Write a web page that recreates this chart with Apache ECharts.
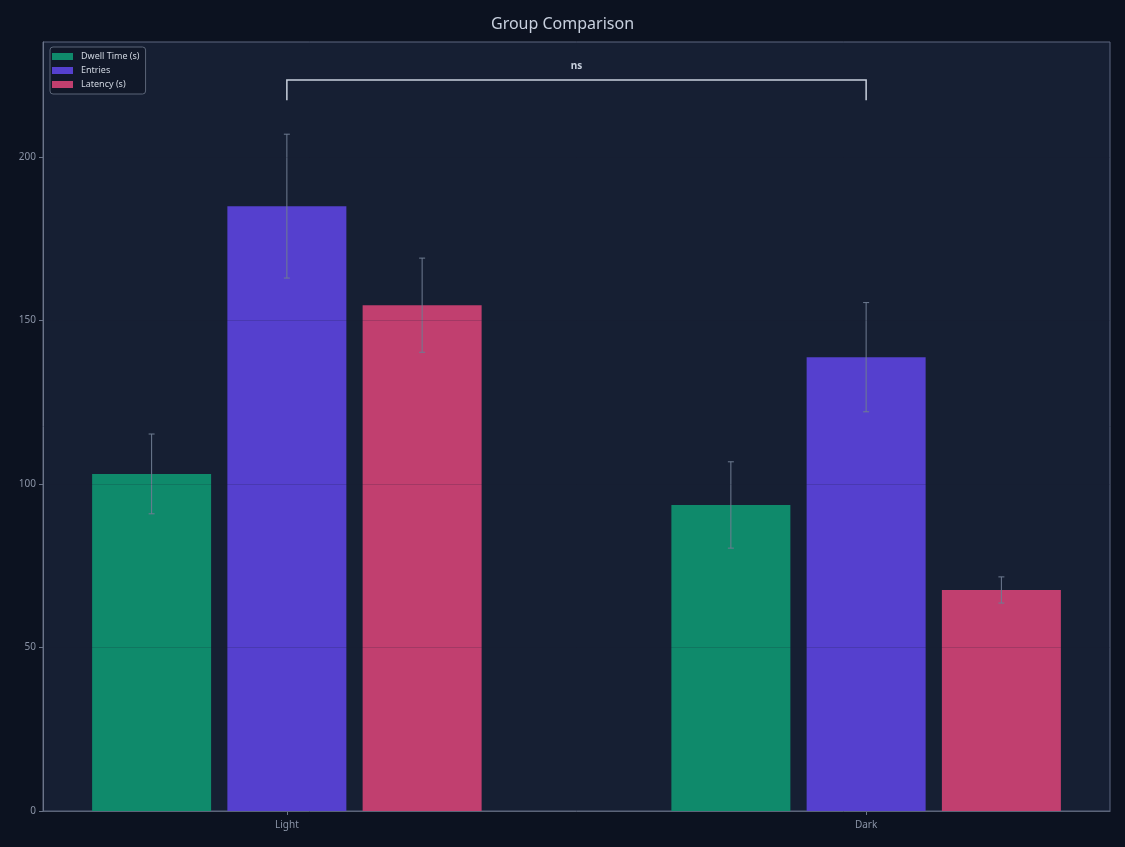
<!DOCTYPE html>
<html><head><meta charset="utf-8">
<script src="https://cdn.jsdelivr.net/npm/echarts@6/dist/echarts.min.js"></script>
<style>html,body{margin:0;padding:0;background:#0c1220;}#c{width:1125px;height:847px;}</style>
</head><body><div id="c"></div>
<script>
const categories = ['Light', 'Dark'];
const seriesNames = ['Dwell Time (s)', 'Entries', 'Latency (s)'];
const dwellValues = [103.1, 93.6];
const dwellErrors = [12.2, 13.2];
const entriesValues = [185.0, 138.8];
const entriesErrors = [22.0, 16.7];
const latencyValues = [154.7, 67.6];
const latencyErrors = [14.4, 4.0];
const yTicks = [0, 50, 100, 150, 200];
const sigPairs = [[0, 1, 'ns']];

const colors = ['#0f8a6b', '#5540ce', '#c13f6f'];
const allValues = [dwellValues, entriesValues, latencyValues];
const allErrors = [dwellErrors, entriesErrors, latencyErrors];
const OFFSET = 0.2335;

const chart = echarts.init(document.getElementById('c'));
const font = 'Noto Sans, Open Sans, sans-serif';

const series = [];
allValues.forEach((vals, s) => {
  series.push({
    type: 'bar', name: seriesNames[s],
    data: vals.map((v, i) => [i + (s - 1) * OFFSET, v]),
    barWidth: 119, barGap: '-100%',
    itemStyle: { color: colors[s] }, z: 2
  });
});
allValues.forEach((vals, s) => {
  series.push({
    type: 'custom', name: 'err' + s, silent: true, z: 5,
    data: vals.map((v, i) => [i + (s - 1) * OFFSET, v, allErrors[s][i]]),
    renderItem: function (params, api) {
      const x = api.value(0), v = api.value(1), e = api.value(2);
      const top = api.coord([x, v + e]);
      const bot = api.coord([x, v - e]);
      const st = { stroke: '#6f7c92', lineWidth: 1 };
      return { type: 'group', children: [
        { type: 'line', shape: { x1: top[0], y1: top[1], x2: bot[0], y2: bot[1] }, style: st },
        { type: 'line', shape: { x1: top[0] - 3, y1: top[1], x2: top[0] + 3, y2: top[1] }, style: st },
        { type: 'line', shape: { x1: bot[0] - 3, y1: bot[1], x2: bot[0] + 3, y2: bot[1] }, style: st }
      ]};
    }
  });
});
let maxTop = 0;
allValues.forEach((vals, s) => vals.forEach((v, i) => { maxTop = Math.max(maxTop, v + allErrors[s][i]); }));
series.push({
  type: 'custom', name: 'sig', silent: true, z: 6,
  data: sigPairs.map(p => [p[0], p[1], maxTop]),
  renderItem: function (params, api) {
    const a = api.value(0), b = api.value(1), m = api.value(2);
    const p1 = api.coord([a, m * 1.05]);
    const p2 = api.coord([a, m * 1.08]);
    const p3 = api.coord([b, m * 1.08]);
    const p4 = api.coord([b, m * 1.05]);
    const t = api.coord([(a + b) / 2, m * 1.10]);
    return { type: 'group', children: [
      { type: 'polyline', shape: { points: [p1, p2, p3, p4] }, style: { stroke: '#c9d1de', lineWidth: 1.5, fill: null } },
      { type: 'text', x: t[0], y: t[1], style: { text: sigPairs[params.dataIndex][2], fill: '#c9d1de', font: 'bold 10px ' + font, align: 'center', verticalAlign: 'middle' } }
    ]};
  }
});

chart.setOption({
  backgroundColor: '#0c1220',
  animation: false,
  title: { text: 'Group Comparison', left: 'center', top: 11, textStyle: { color: '#c8d0de', fontSize: 16, fontWeight: 'normal', fontFamily: font } },
  legend: {
    data: seriesNames, orient: 'vertical', left: 50, top: 47,
    itemWidth: 21, itemHeight: 7, itemGap: 5, padding: [5, 6, 5, 2],
    borderColor: '#5b6578', borderWidth: 1, borderRadius: 3,
    backgroundColor: 'rgba(12,18,32,0.5)',
    textStyle: { color: '#d0d6e0', fontSize: 9, fontFamily: font, padding: [0, 0, 0, 3] },
    icon: 'rect'
  },
  grid: { left: 43, right: 15, top: 42, bottom: 36, show: true, backgroundColor: '#161f33', borderColor: '#5d6780', borderWidth: 1 },
  xAxis: {
    type: 'value', min: -0.421, max: 1.421,
    axisLine: { show: true, onZero: false, lineStyle: { color: '#6b7488' } },
    axisTick: { show: true, customValues: [0, 1], length: 4, lineStyle: { color: '#6b7488' } },
    axisLabel: { customValues: [0, 1], color: '#8a93a6', fontSize: 10, fontFamily: font, margin: 9,
      formatter: v => categories[Math.round(v)] },
    splitLine: { show: false }
  },
  yAxis: {
    type: 'value', min: 0, max: 235.2, interval: 50, z: 10,
    axisLine: { show: true, onZero: false, lineStyle: { color: '#6b7488' } },
    axisTick: { show: true, customValues: yTicks, length: 4, lineStyle: { color: '#6b7488' } },
    axisLabel: { customValues: yTicks, color: '#8a93a6', fontSize: 10, fontFamily: font, margin: 7 },
    splitLine: { show: true, lineStyle: { color: 'rgba(20,28,48,0.18)', width: 1 } }
  },
  series: series
});
</script></body></html>
